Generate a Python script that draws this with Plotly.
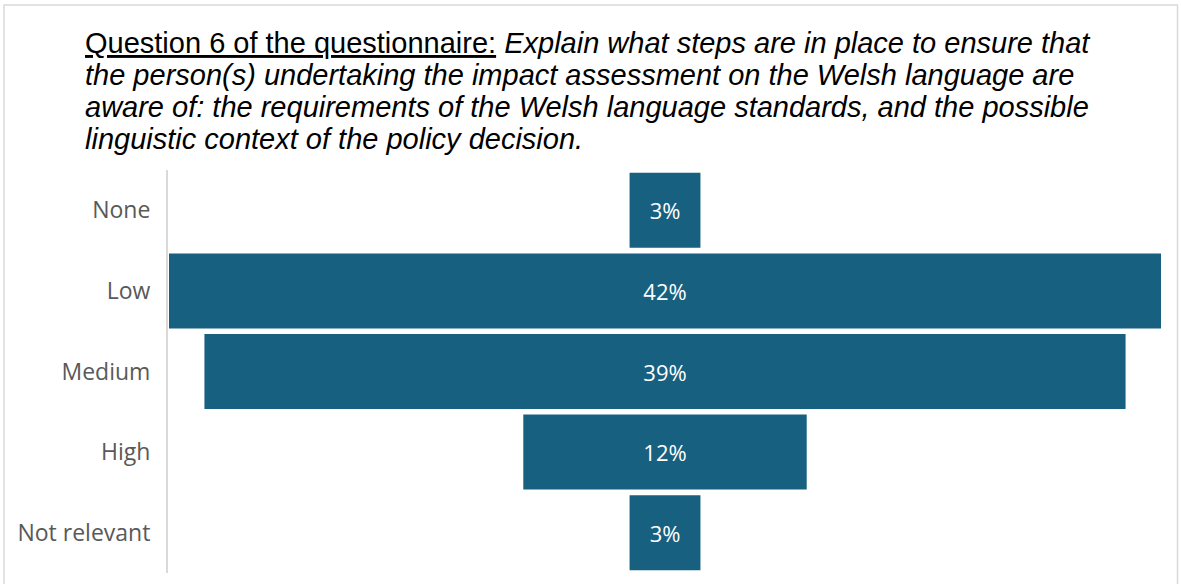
import plotly.graph_objects as go

categories = ["None", "Low", "Medium", "High", "Not relevant"]
shares = [3, 42, 39, 12, 3]
share_labels = ["3%", "42%", "39%", "12%", "3%"]

title_lead = "Question 6 of the questionnaire:"
title_lines = [
    "Explain what steps are in place to ensure that",
    "the person(s) undertaking the impact assessment on the Welsh language are",
    "aware of: the requirements of the Welsh language standards, and the possible",
    "linguistic context of the policy decision.",
]

BAR = "#17607F"
W, H = 1181, 584
L, R, T, B = 168, 19, 170, 11
pw, ph = W - L - R, H - T - B


def px_x(p):
    return (p - L) / pw


def px_y(p):
    return (H - B - p) / ph


fig = go.Figure(
    go.Funnel(
        y=categories,
        x=shares,
        text=share_labels,
        textinfo="text",
        textposition="inside",
        insidetextanchor="middle",
        textfont=dict(family="Open Sans", size=22, color="white"),
        marker=dict(color=BAR, line=dict(width=0)),
        connector=dict(visible=False),
        hoverinfo="skip",
    )
)

half = max(shares) / 2 * pw / (pw - 2)
fig.update_xaxes(visible=False, range=[-half, half])
fig.update_yaxes(
    showline=True,
    linecolor="#D9D9D9",
    linewidth=2,
    showgrid=False,
    ticks="",
    ticklabelstandoff=11,
    tickfont=dict(family="Open Sans", size=23, color="#595959"),
)

title_font = dict(family="Liberation Sans, Arial", size=29, color="black")
line_centres = [43, 75, 107, 139]
annotations = []
for i, (txt, yc) in enumerate(zip(title_lines, line_centres)):
    body = f"<i>{txt}</i>"
    if i == 0:
        body = f"<u>{title_lead}</u> " + body
    annotations.append(
        dict(
            text=body,
            x=px_x(83),
            y=px_y(yc),
            xref="paper",
            yref="paper",
            xanchor="left",
            yanchor="middle",
            showarrow=False,
            align="left",
            font=title_font,
        )
    )

fig.update_layout(
    width=W,
    height=H,
    margin=dict(l=L, r=R, t=T, b=B),
    paper_bgcolor="white",
    plot_bgcolor="white",
    funnelgap=0.07,
    showlegend=False,
    annotations=annotations,
    shapes=[
        dict(
            type="rect",
            xref="paper",
            yref="paper",
            x0=px_x(4),
            x1=px_x(1177.5),
            y0=px_y(600),
            y1=px_y(5),
            line=dict(color="#D9D9D9", width=1.5),
            fillcolor="rgba(0,0,0,0)",
            layer="below",
        )
    ],
)

fig.write_html("out.html")
